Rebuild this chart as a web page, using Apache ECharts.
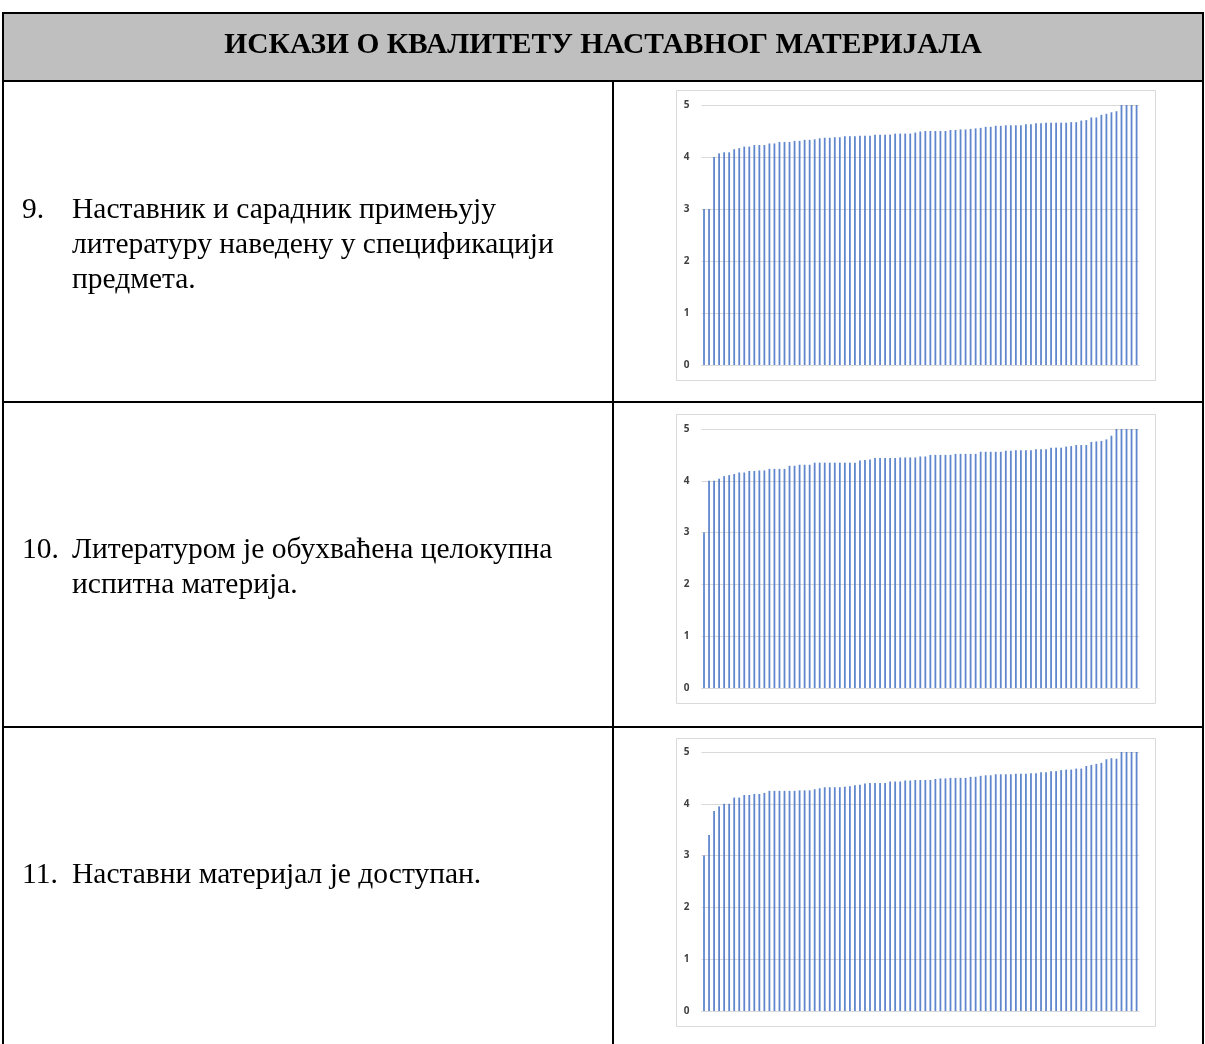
<!DOCTYPE html>
<html>
<head>
<meta charset="utf-8">
<script src="https://cdn.jsdelivr.net/npm/echarts@6/dist/echarts.min.js"></script>
<style>
html,body{margin:0;padding:0;background:#fff;}
#c{width:1205px;height:1044px;}
</style>
</head>
<body>
<div id="c"></div>
<script>
// ---- data ----
const tableTitle = 'ИСКАЗИ О КВАЛИТЕТУ НАСТАВНОГ МАТЕРИЈАЛА';
const itemNumbers = ['9.', '10.', '11.'];
const itemLines = [
  ['Наставник и сарадник примењују', 'литературу наведену у спецификацији', 'предмета.'],
  ['Литературом је обухваћена целокупна', 'испитна материја.'],
  ['Наставни материјал је доступан.']
];
const yTicks = [0, 1, 2, 3, 4, 5];
const respondents = ['1','2','3','4','5','6','7','8','9','10','11','12','13','14','15','16','17','18','19','20',
  '21','22','23','24','25','26','27','28','29','30','31','32','33','34','35','36','37','38','39','40',
  '41','42','43','44','45','46','47','48','49','50','51','52','53','54','55','56','57','58','59','60',
  '61','62','63','64','65','66','67','68','69','70','71','72','73','74','75','76','77','78','79','80',
  '81','82','83','84','85','86','87'];
const scores9 = [3.0,3.0,4.0,4.07,4.09,4.09,4.15,4.17,4.2,4.2,
  4.23,4.23,4.23,4.26,4.26,4.29,4.29,4.29,4.31,4.31,
  4.33,4.33,4.34,4.36,4.37,4.37,4.38,4.38,4.4,4.4,
  4.4,4.41,4.41,4.41,4.43,4.43,4.43,4.43,4.45,4.45,
  4.45,4.45,4.47,4.49,4.5,4.5,4.5,4.5,4.5,4.52,
  4.52,4.53,4.53,4.54,4.55,4.56,4.58,4.58,4.6,4.6,
  4.61,4.61,4.61,4.61,4.63,4.63,4.65,4.65,4.66,4.66,
  4.66,4.66,4.66,4.67,4.67,4.7,4.71,4.76,4.76,4.81,
  4.83,4.86,4.88,5,5,5,5];
const scores10 = [3.0,4.0,4.0,4.04,4.09,4.11,4.13,4.16,4.16,4.19,
  4.19,4.2,4.2,4.23,4.23,4.23,4.23,4.29,4.29,4.31,
  4.31,4.31,4.35,4.35,4.35,4.35,4.35,4.35,4.35,4.35,
  4.35,4.39,4.4,4.41,4.44,4.44,4.44,4.44,4.44,4.45,
  4.45,4.45,4.45,4.47,4.47,4.5,4.5,4.5,4.5,4.5,
  4.52,4.52,4.52,4.52,4.52,4.56,4.56,4.56,4.56,4.56,
  4.58,4.58,4.59,4.59,4.59,4.59,4.61,4.61,4.61,4.64,
  4.64,4.64,4.66,4.67,4.69,4.69,4.69,4.75,4.76,4.77,
  4.8,4.87,5,5,5,5,5];
const scores11 = [3.0,3.4,3.86,3.95,4.0,4.0,4.12,4.12,4.17,4.17,
  4.19,4.19,4.21,4.25,4.25,4.25,4.25,4.25,4.25,4.26,
  4.26,4.26,4.28,4.3,4.32,4.32,4.32,4.32,4.33,4.34,
  4.36,4.37,4.39,4.4,4.4,4.4,4.4,4.43,4.43,4.43,
  4.45,4.45,4.46,4.46,4.46,4.46,4.48,4.49,4.49,4.5,
  4.5,4.5,4.5,4.52,4.52,4.54,4.55,4.55,4.57,4.57,
  4.57,4.57,4.58,4.58,4.58,4.59,4.59,4.61,4.61,4.63,
  4.63,4.65,4.66,4.66,4.68,4.68,4.73,4.75,4.77,4.79,
  4.86,4.88,4.87,5,5,5,5];
const allScores = [scores9, scores10, scores11];

// ---- layout ----
const TABLE_L = 3, TABLE_R = 1203, TABLE_T = 13, HEAD_B = 81, DIVIDER_X = 613;
const ROW_LINES = [402, 727];
const FRAMES = [[676, 90, 479, 290], [676, 414, 479, 289], [676, 738, 479, 288]];
const GRIDS = [[701.5, 105, 437.6, 260], [701.5, 429, 437.6, 259], [701.5, 752, 437.6, 259]];
const NUM_X = 22, TEXT_X = 72;
const ROW_TEXT_Y = [[210, 245, 280], [550, 585], [875]];
const BODY_FONT = '29.5px "Liberation Serif", "Times New Roman", serif';
const HEAD_FONT = 'bold 29.5px "Liberation Serif", "Times New Roman", serif';

const chart = echarts.init(document.getElementById('c'), null, {renderer: 'canvas'});

const graphics = [];
graphics.push({type: 'rect', shape: {x: TABLE_L, y: TABLE_T, width: TABLE_R - TABLE_L, height: HEAD_B - TABLE_T},
  style: {fill: '#bfbfbf', stroke: '#000', lineWidth: 2}});
graphics.push({type: 'text', x: (TABLE_L + TABLE_R) / 2, y: 45,
  style: {text: tableTitle, font: HEAD_FONT, fill: '#000', textAlign: 'center', textVerticalAlign: 'middle'}});
graphics.push({type: 'line', shape: {x1: TABLE_L, y1: TABLE_T, x2: TABLE_L, y2: 1044}, style: {stroke: '#000', lineWidth: 2}});
graphics.push({type: 'line', shape: {x1: TABLE_R, y1: TABLE_T, x2: TABLE_R, y2: 1044}, style: {stroke: '#000', lineWidth: 2}});
graphics.push({type: 'line', shape: {x1: DIVIDER_X, y1: HEAD_B, x2: DIVIDER_X, y2: 1044}, style: {stroke: '#000', lineWidth: 2}});
ROW_LINES.forEach(y => graphics.push({type: 'line', shape: {x1: TABLE_L, y1: y, x2: TABLE_R, y2: y}, style: {stroke: '#000', lineWidth: 2}}));
FRAMES.forEach(f => graphics.push({type: 'rect', shape: {x: f[0] + 0.5, y: f[1] + 0.5, width: f[2], height: f[3]},
  style: {fill: 'none', stroke: '#d9d9d9', lineWidth: 1}}));
itemNumbers.forEach((num, r) => {
  graphics.push({type: 'text', x: NUM_X, y: ROW_TEXT_Y[r][0],
    style: {text: num, font: BODY_FONT, fill: '#000', textAlign: 'left', textVerticalAlign: 'middle'}});
  itemLines[r].forEach((line, k) => {
    graphics.push({type: 'text', x: TEXT_X, y: ROW_TEXT_Y[r][k],
      style: {text: line, font: BODY_FONT, fill: '#000', textAlign: 'left', textVerticalAlign: 'middle'}});
  });
});

const grids = [], xAxes = [], yAxes = [], series = [];
GRIDS.forEach((g, i) => {
  grids.push({left: g[0], top: g[1], width: g[2], height: g[3], containLabel: false});
  xAxes.push({type: 'category', gridIndex: i, data: respondents,
    axisLine: {show: true, lineStyle: {color: '#d9d9d9', width: 1}},
    axisTick: {show: false}, axisLabel: {show: false}, splitLine: {show: false}});
  yAxes.push({type: 'value', gridIndex: i, min: yTicks[0], max: yTicks[yTicks.length - 1], interval: 1,
    axisLine: {show: false}, axisTick: {show: false},
    axisLabel: {color: '#404040', fontSize: 10, fontWeight: 'bold', fontFamily: '"Open Sans", "Noto Sans", sans-serif', margin: 12},
    splitLine: {show: true, lineStyle: {color: '#d9d9d9', width: 1}}});
  series.push({type: 'bar', xAxisIndex: i, yAxisIndex: i, data: allScores[i],
    barWidth: 1.8, itemStyle: {color: '#4472c4', opacity: 0.85}, animation: false, silent: true});
});

chart.setOption({
  animation: false,
  backgroundColor: '#fff',
  grid: grids,
  xAxis: xAxes,
  yAxis: yAxes,
  series: series,
  graphic: {elements: graphics}
});
</script>
</body>
</html>
